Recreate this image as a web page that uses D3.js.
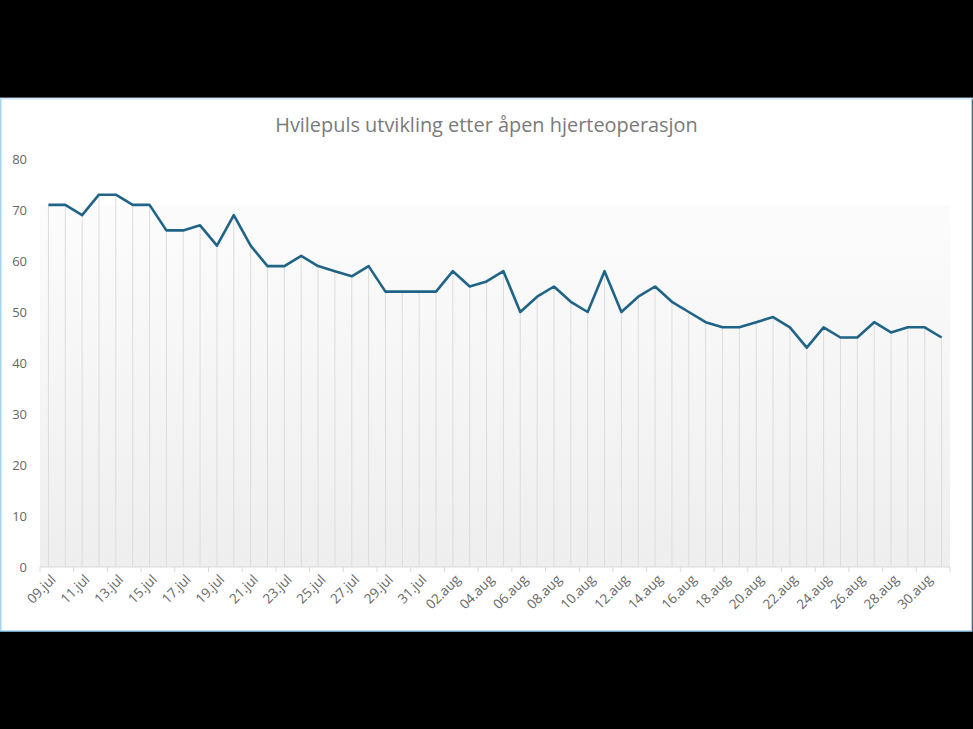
<!DOCTYPE html>
<html>
<head>
<meta charset="utf-8">
<script src="https://cdn.jsdelivr.net/npm/d3@7"></script>
<style>
  html, body { margin: 0; padding: 0; background: #000; }
  svg { display: block; }
</style>
</head>
<body>
<svg id="chart" width="973" height="729"></svg>
<script>
const title = "Hvilepuls utvikling etter åpen hjerteoperasjon";
const dates = [
  "09.jul","10.jul","11.jul","12.jul","13.jul","14.jul","15.jul","16.jul","17.jul","18.jul",
  "19.jul","20.jul","21.jul","22.jul","23.jul","24.jul","25.jul","26.jul","27.jul","28.jul",
  "29.jul","30.jul","31.jul",
  "01.aug","02.aug","03.aug","04.aug","05.aug","06.aug","07.aug","08.aug","09.aug","10.aug",
  "11.aug","12.aug","13.aug","14.aug","15.aug","16.aug","17.aug","18.aug","19.aug","20.aug",
  "21.aug","22.aug","23.aug","24.aug","25.aug","26.aug","27.aug","28.aug","29.aug","30.aug","31.aug"
];
const pulse = [
  71,71,69,73,73,71,71,66,66,67,
  63,69,63,59,59,61,59,58,57,59,
  54,54,54,
  54,58,55,56,58,50,53,55,52,50,
  58,50,53,55,52,50,48,47,47,48,
  49,47,43,47,45,45,48,46,47,47,45
];
const yTicks = [0,10,20,30,40,50,60,70,80];

const svg = d3.select("#chart");

// chart frame
svg.append("rect").attr("x", 0.75).attr("y", 98.5).attr("width", 971).attr("height", 532.5)
  .attr("fill", "#ffffff").attr("stroke", "#9ed6f2").attr("stroke-width", 1.5);
svg.append("line").attr("x1", 0).attr("x2", 973).attr("y1", 98.5).attr("y2", 98.5)
  .attr("stroke", "#d3e6ef").attr("stroke-width", 1.5);

const plot = { left: 40, right: 950, top: 159, bottom: 567 };

const x = d3.scaleBand().domain(dates).range([plot.left, plot.right]).padding(0);
const y = d3.scaleLinear().domain([0, 80]).range([plot.bottom, plot.top]);

// gradient plot fill
const defs = svg.append("defs");
const grad = defs.append("linearGradient").attr("id", "pg")
  .attr("x1", 0).attr("y1", 0).attr("x2", 0).attr("y2", 1);
grad.append("stop").attr("offset", "0%").attr("stop-color", "#ffffff");
grad.append("stop").attr("offset", "11.2%").attr("stop-color", "#ffffff");
grad.append("stop").attr("offset", "11.3%").attr("stop-color", "#fcfcfc");
grad.append("stop").attr("offset", "100%").attr("stop-color", "#eeeeee");

svg.append("rect")
  .attr("x", plot.left).attr("y", y(80))
  .attr("width", plot.right - plot.left).attr("height", y(0) - y(80))
  .attr("fill", "url(#pg)");

const cx = d => x(d) + x.bandwidth() / 2;

// drop lines
svg.append("g").selectAll("line").data(dates).join("line")
  .attr("x1", d => cx(d)).attr("x2", d => cx(d))
  .attr("y1", (d, i) => y(pulse[i])).attr("y2", y(0))
  .attr("stroke", "#dcdcdc").attr("stroke-width", 1);

// x axis
const xAxisG = svg.append("g").attr("transform", `translate(0,${y(0)})`);
xAxisG.append("line").attr("x1", plot.left).attr("x2", plot.right)
  .attr("stroke", "#d9d9d9").attr("stroke-width", 1);
const tickDates = dates.filter((d, i) => i % 2 === 0);
xAxisG.selectAll("line.tick").data(tickDates.concat([null])).join("line")
  .attr("class", "tick")
  .attr("x1", d => d === null ? plot.right : x(d))
  .attr("x2", d => d === null ? plot.right : x(d))
  .attr("y1", 0).attr("y2", 5)
  .attr("stroke", "#d9d9d9").attr("stroke-width", 1);
xAxisG.selectAll("text").data(tickDates).join("text")
  .attr("transform", d => `translate(${cx(d) + 5},${10}) rotate(-45)`)
  .attr("text-anchor", "end")
  .attr("dy", "0.35em")
  .attr("font-family", "'Open Sans', sans-serif")
  .attr("font-size", 13.5)
  .attr("fill", "#666666")
  .text(d => d);

// y labels
svg.append("g").selectAll("text").data(yTicks).join("text")
  .attr("x", 27).attr("y", d => y(d)).attr("dy", "0.35em")
  .attr("text-anchor", "end")
  .attr("font-family", "'Open Sans', sans-serif")
  .attr("font-size", 13)
  .attr("fill", "#666666")
  .text(d => d);

// line
const line = d3.line().x((d, i) => cx(dates[i])).y(d => y(d));
svg.append("path").datum(pulse)
  .attr("d", line)
  .attr("fill", "none")
  .attr("stroke", "#1f6487")
  .attr("stroke-width", 2.6)
  .attr("stroke-linejoin", "round");

// title
const t = svg.append("text")
  .attr("x", 486.5).attr("y", 132)
  .attr("text-anchor", "middle")
  .attr("font-family", "'Open Sans', sans-serif")
  .attr("font-size", 18)
  .attr("fill", "#7a7a7a")
  .text(title);
const w = t.node().getComputedTextLength();
t.attr("font-size", 18 * 423 / w);
</script>
</body>
</html>
